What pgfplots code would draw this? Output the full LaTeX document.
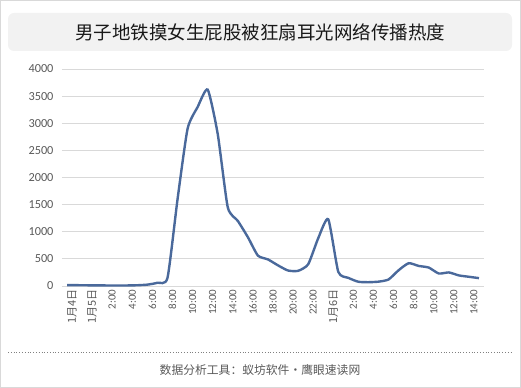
\documentclass[border=0pt]{standalone}
\usepackage{pgfplots}
\pgfplotsset{compat=1.18}
\usepackage{fontspec}
\setmainfont{Carlito}
\newfontfamily\cjk{Noto Sans CJK SC}
\definecolor{linec}{RGB}{74,105,155}
\definecolor{gridc}{RGB}{217,217,217}
\definecolor{txtc}{RGB}{89,89,89}
\definecolor{titlebg}{RGB}{242,242,242}
\begin{document}
\begin{tikzpicture}
\useasboundingbox (0bp,0bp) rectangle (521bp,388bp);
\draw[gridc, line width=1bp] (0.5bp,0.5bp) rectangle (520.5bp,387.5bp);
\fill[titlebg, rounded corners=6bp] (8bp,337bp) rectangle (512bp,375bp);
\node[font=\cjk\fontsize{18.5bp}{22bp}\selectfont, text=black!90] at (260bp,356bp) {男子地铁摸女生屁股被狂扇耳光网络传播热度};
\draw[gray, dotted, line width=0.8bp] (8bp,36bp) -- (512bp,36bp);
\node[font=\cjk\fontsize{11.8bp}{14bp}\selectfont, text=txtc] at (260bp,18bp) {数据分析工具：蚁坊软件·鹰眼速读网};
\begin{axis}[
  at={(67.02bp,102bp)}, anchor=origin, scale only axis,
  width=422bp, height=217bp,
  xmin=-0.5, xmax=41.5, ymin=0, ymax=4000,
  ytick={0,500,...,4000},
  xtick={0,2,...,40},
  xticklabels={{\cjk 1月4日},{\cjk 1月5日},2:00,4:00,6:00,8:00,10:00,12:00,14:00,16:00,18:00,20:00,22:00,{\cjk 1月6日},2:00,4:00,6:00,8:00,10:00,12:00,14:00},
  axis line style={draw=none},
  major tick length=0pt,
  ymajorgrids, grid style={gridc, line width=0.8bp},
  /pgf/number format/assume math mode=true,
  /pgf/number format/1000 sep={},
  yticklabel style={font=\fontsize{12.3bp}{14bp}\selectfont, text=txtc, xshift=-5bp},
  xticklabel style={font=\fontsize{11bp}{12bp}\selectfont, text=txtc, rotate=90, anchor=east, yshift=-5bp},
  clip=false,
]
\addplot[linec, line width=2.4bp, smooth, tension=0.35, no markers] coordinates {
(0,15) (1,15) (2,13) (3,11) (4,10) (5,10) (6,10) (7,14) (8,25) (9,60)
(10,150) (11,1600) (12,2900) (13,3300) (14,3620) (15,2800) (16,1450) (17,1200) (18,900) (19,560)
(20,490) (21,380) (22,285) (23,280) (24,400) (25,880) (26,1230) (27,260) (28,150) (29,78)
(30,70) (31,80) (32,120) (33,290) (34,420) (35,370) (36,340) (37,230) (38,250) (39,195)
(40,170) (41,145)
};
\end{axis}
\end{tikzpicture}
\end{document}
